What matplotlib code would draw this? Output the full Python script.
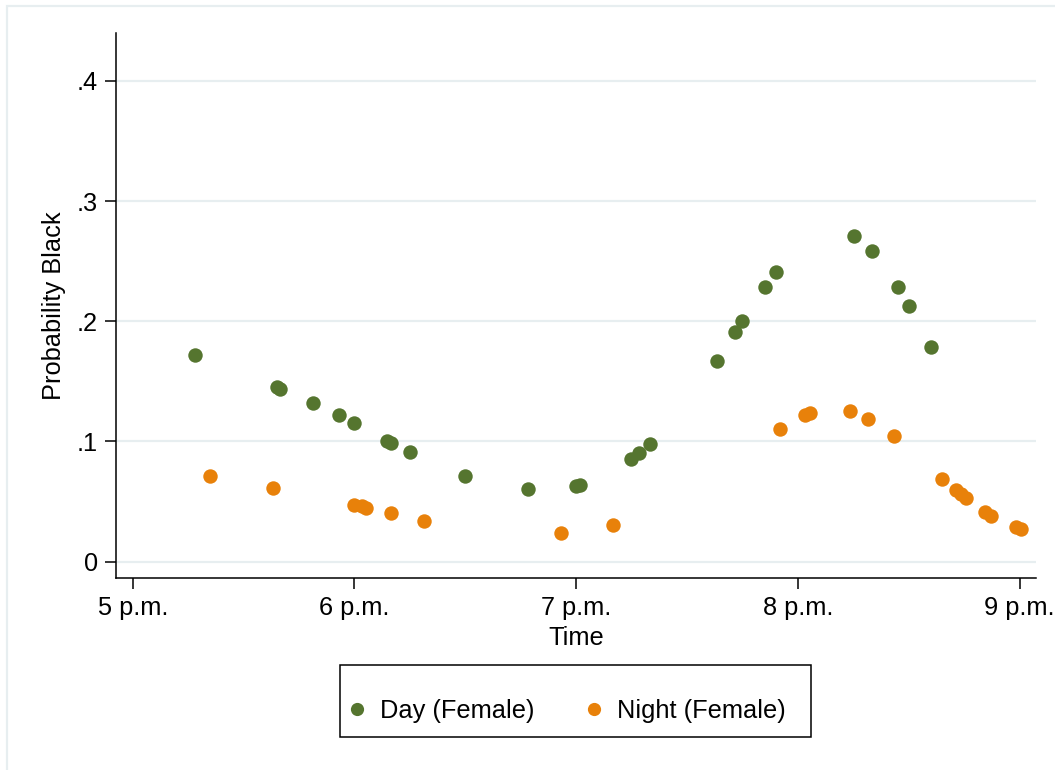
import matplotlib
matplotlib.use("Agg")
import matplotlib.pyplot as plt
from matplotlib.patches import Rectangle
from matplotlib.lines import Line2D

plt.rcParams['font.family'] = ['Liberation Sans', 'DejaVu Sans']

# Hours since 5 p.m. and probability that the driver stopped is Black
day_hours = [0.281, 0.650, 0.665, 0.815, 0.931, 0.999, 1.147, 1.166, 1.249,
             1.499, 1.782, 1.997, 2.019, 2.248, 2.284, 2.332, 2.633, 2.716,
             2.749, 2.850, 2.900, 3.251, 3.333, 3.450, 3.500, 3.599]
day_prob = [0.172, 0.1451, 0.1434, 0.132, 0.1218, 0.1156, 0.1007, 0.0988, 0.091,
            0.071, 0.0605, 0.0632, 0.064, 0.0854, 0.0902, 0.0982, 0.1672, 0.1908,
            0.2005, 0.2285, 0.2413, 0.2712, 0.2585, 0.2283, 0.2125, 0.1784]

night_hours = [0.349, 0.632, 0.998, 1.034, 1.050, 1.165, 1.315, 1.932, 2.165,
               2.918, 3.032, 3.053, 3.233, 3.318, 3.434, 3.649, 3.713, 3.735,
               3.758, 3.844, 3.871, 3.984, 4.007]
night_prob = [0.0713, 0.0613, 0.0474, 0.0463, 0.0449, 0.0405, 0.0341, 0.0241, 0.0303,
              0.1104, 0.1218, 0.1235, 0.1251, 0.119, 0.1043, 0.0686, 0.0597, 0.0563,
              0.053, 0.0414, 0.038, 0.0291, 0.027]

x_ticks = [0, 1, 2, 3, 4]
x_tick_labels = ['5 p.m.', '6 p.m.', '7 p.m.', '8 p.m.', '9 p.m.']
y_ticks = [0, 0.1, 0.2, 0.3, 0.4]
y_tick_labels = ['0', '.1', '.2', '.3', '.4']

green = '#55752f'
orange = '#e8810a'
grid_color = '#e7eef0'
fs = 18.3

fig = plt.figure(figsize=(10.55, 7.70), dpi=100)
fig.patch.set_facecolor('white')

# thin outer frame of the graph region
fig.patches.append(Rectangle((7 / 1055, -0.05), 1.2, 1 - 6 / 770 + 0.05,
                             transform=fig.transFigure, fill=False,
                             edgecolor=grid_color, linewidth=1.6, zorder=0))

ax = fig.add_axes([115.7 / 1055, 1 - 578 / 770,
                   (1036 - 115.7) / 1055, (578 - 32.7) / 770])

for y in y_ticks:
    ax.axhline(y, color=grid_color, linewidth=1.6, zorder=0)

ax.scatter(day_hours, day_prob, s=108, color=green, linewidths=0, zorder=3)
ax.scatter(night_hours, night_prob, s=108, color=orange, linewidths=0, zorder=3)

ax.set_xlim(-0.077, 4.074)
ax.set_ylim(-0.0136, 0.440)

ax.set_xticks(x_ticks)
ax.set_xticklabels(x_tick_labels, fontsize=fs)
ax.set_yticks(y_ticks)
ax.set_yticklabels(y_tick_labels, fontsize=fs)

for side in ('top', 'right'):
    ax.spines[side].set_visible(False)
for side in ('left', 'bottom'):
    ax.spines[side].set_linewidth(1.1)
    ax.spines[side].set_color('black')

ax.tick_params(axis='both', direction='out', length=8, width=1.1, pad=5)

ax.set_xlabel('Time', fontsize=fs, labelpad=4)
ax.set_ylabel('Probability Black', fontsize=fs, labelpad=7.5)

# legend box below the plot
fig.patches.append(Rectangle((340 / 1055, 1 - 737 / 770), (811 - 340) / 1055,
                             (737 - 665) / 770, transform=fig.transFigure,
                             fill=False, edgecolor='black', linewidth=1.1))
handles = [Line2D([], [], linestyle='none', marker='o', markersize=9.5,
                  markerfacecolor=green, markeredgewidth=0),
           Line2D([], [], linestyle='none', marker='o', markersize=9.5,
                  markerfacecolor=orange, markeredgewidth=0)]
fig.legend(handles, ['Day (Female)', 'Night (Female)'], ncol=2,
           loc='center', bbox_to_anchor=(566 / 1055, 1 - 711 / 770),
           frameon=False, fontsize=fs, handlelength=0.8, handletextpad=0.5,
           columnspacing=1.95)

fig.savefig('out.png', dpi=100, facecolor='white')
